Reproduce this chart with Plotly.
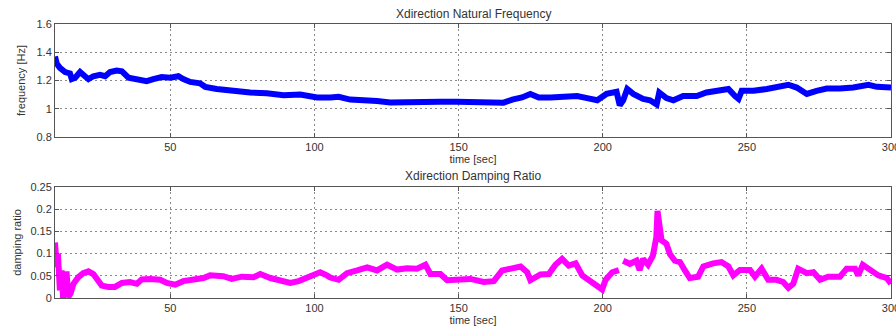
import plotly.graph_objects as go

# Natural frequency estimate (Hz) over time (s)
t_freq = [10, 10.6, 11.7, 13.5, 15.2, 15.8, 17, 18.7, 20.4, 21.6, 23.3, 25.6, 27.4, 29.1,
          31.4, 33.2, 35.5, 38.4, 41.8, 44.1, 47, 50, 52.8, 54.5, 56.9, 60.3, 62.1, 66.1,
          71.9, 77.7, 83.5, 89.3, 95.1, 100.9, 105.5, 108.4, 112.4, 117, 121.7, 126.3,
          132.1, 137.9, 143.7, 149.5, 155.2, 161, 165.6, 168.6, 172, 174.9, 177.8, 181.9,
          186.5, 191.1, 194.6, 198.1, 201.3, 204.8, 205.9, 207.1, 208.5, 210.6, 214, 216.4,
          218.7, 219.6, 222.1, 224.5, 227.9, 232.6, 236, 240.7, 243.6, 245.9, 247.1, 248.2,
          252.3, 256.9, 261.5, 264.4, 267.3, 270.8, 274.2, 277.7, 282.3, 286.9, 292.2,
          295.1, 300]
freq = [1.37, 1.32, 1.29, 1.26, 1.25, 1.21, 1.22, 1.26, 1.23, 1.21, 1.23, 1.24, 1.23, 1.26,
        1.27, 1.265, 1.22, 1.21, 1.195, 1.21, 1.225, 1.22, 1.23, 1.21, 1.19, 1.18, 1.155, 1.14,
        1.125, 1.115, 1.11, 1.095, 1.10, 1.08, 1.08, 1.085, 1.065, 1.065, 1.055, 1.045,
        1.05, 1.045, 1.05, 1.05, 1.05, 1.052, 1.043, 1.065, 1.08, 1.105, 1.08, 1.08,
        1.08, 1.09, 1.075, 1.06, 1.105, 1.12, 1.025, 1.06, 1.14, 1.105, 1.07, 1.06,
        1.03, 1.115, 1.075, 1.06, 1.09, 1.09, 1.115, 1.127, 1.14, 1.09, 1.07, 1.127,
        1.127, 1.14, 1.16, 1.17, 1.15, 1.105, 1.127, 1.143, 1.143, 1.15, 1.17,
        1.155, 1.15]

# Damping ratio estimate over time (s); None marks a gap in the estimate
t_damp = [10, 10.3, 10.6, 11, 11.3, 11.7, 12.3, 12.8, 13.5, 14, 14.6, 15.4, 16.4, 18.1,
          19.8, 21.6, 23.3, 24.5, 26.2, 28.5, 30.8, 33.2, 36, 38.4, 40.1, 43, 46.5, 48.8,
          51.7, 54.5, 58, 61.5, 63.8, 68.4, 71.3, 74.8, 78.9, 81.2, 84.7, 88.1, 91.6, 94.5,
          97.4, 99.7, 102, 104.3, 105.5, 108.4, 111.3, 114.8, 118.3, 121.7, 125.2, 128.7,
          132.1, 135.6, 138.5, 140.2, 143.7, 146, 149.5, 154.1, 158.7, 162.2, 165.1, 168.6,
          171.5, 173.8, 174.9, 178.4, 181.3, 183.6, 185.9, 188.2, 190.6, 192.9, 195.8,
          198.1, 199.8, 201, 203.3, 205.6, 206.3, 207.1, 209.4, 211.7, 212.8, 214, 215.7,
          217.4, 218.6, 219, 219.6, 220.4, 222.1, 223.3, 225, 226.8, 228.5, 230.2, 233.1,
          234.9, 238.3, 241.2, 243.6, 245.3, 247.6, 251.1, 252.8, 255.1, 257.4, 260.3,
          262.6, 264.4, 266.1, 267.8, 270.8, 273.1, 275.4, 278.2, 282.3, 284.6, 287.5,
          288.6, 290.2, 292.7, 295.6, 298.5, 300]
damp = [0.125, 0.085, 0.07, 0.1, 0.03, 0.017, 0.062, 0.0, 0.04, 0.06, 0.002, 0.01, 0.032, 0.047,
        0.056, 0.06, 0.054, 0.045, 0.028, 0.025, 0.025, 0.034, 0.036, 0.032, 0.042, 0.043, 0.041, 0.034,
        0.03, 0.038, 0.04, 0.045, 0.051, 0.049, 0.043, 0.048, 0.047, 0.054, 0.045, 0.038, 0.034, 0.038,
        0.045, 0.051, 0.058, 0.051, 0.046, 0.041, 0.056, 0.062, 0.069, 0.062, 0.075, 0.064,
        0.067, 0.066, 0.075, 0.054, 0.054, 0.04, 0.04, 0.043, 0.036, 0.038, 0.062, 0.068,
        0.071, 0.058, 0.04, 0.053, 0.054, 0.075, 0.088, 0.073, 0.078, 0.051, 0.038,
        0.025, 0.019, 0.041, 0.058, 0.063, None, 0.084, 0.077, 0.084, 0.063, 0.088, 0.075,
        0.095, 0.137, 0.196, 0.166, 0.13, 0.122, 0.099, 0.084, 0.081, 0.062, 0.045, 0.048,
        0.071, 0.078, 0.081, 0.071, 0.051, 0.063, 0.063, 0.048, 0.066, 0.041, 0.041,
        0.036, 0.023, 0.032, 0.066, 0.056, 0.058, 0.041, 0.048, 0.048, 0.066, 0.066,
        0.051, 0.075, 0.063, 0.051, 0.045, 0.032]

freq_ticks = [0.8, 1.0, 1.2, 1.4, 1.6]
freq_ticklabels = ["0.8", "1", "1.2", "1.4", "1.6"]
damp_ticks = [0, 0.05, 0.1, 0.15, 0.2, 0.25]
damp_ticklabels = ["0", "0.05", "0.1", "0.15", "0.2", "0.25"]
time_ticks = [50, 100, 150, 200, 250, 300]

FONT = "Liberation Sans"
TXT = "#333333"

fig = go.Figure()
fig.add_trace(go.Scatter(x=t_freq, y=freq, mode="lines", xaxis="x", yaxis="y",
                         line=dict(color="#0000ff", width=6), connectgaps=False))
fig.add_trace(go.Scatter(x=t_damp, y=damp, mode="lines", xaxis="x2", yaxis="y2",
                         line=dict(color="#ff00ff", width=6), connectgaps=False))

axis_common = dict(
    showline=True, linecolor="#555555", linewidth=1, mirror="ticks",
    ticks="inside", ticklen=4, tickcolor="#555555", automargin=False,
    showgrid=True, gridcolor="#8a8a8a", griddash="2px,3px", gridwidth=1,
    zeroline=False, tickfont=dict(family=FONT, size=11, color=TXT),
)

fig.update_layout(
    width=896, height=333,
    margin=dict(l=55, r=5, t=24, b=35),
    paper_bgcolor="white", plot_bgcolor="white",
    showlegend=False,
    font=dict(family=FONT, size=11, color=TXT),
    xaxis=dict(domain=[0, 1], anchor="y", range=[10, 300], tickvals=time_ticks,
               ticklabeloverflow="allow",
               title=dict(text="time [sec]", standoff=3, font=dict(size=11)), **axis_common),
    yaxis=dict(domain=[0.5876, 1], anchor="x", range=[0.8, 1.6], tickvals=freq_ticks,
               ticktext=freq_ticklabels,
               title=dict(text="frequency [Hz]", standoff=8, font=dict(size=11)), **axis_common),
    xaxis2=dict(domain=[0, 1], anchor="y2", range=[10, 300], tickvals=time_ticks,
                ticklabeloverflow="allow",
                title=dict(text="time [sec]", standoff=3, font=dict(size=11)), **axis_common),
    yaxis2=dict(domain=[0, 0.4051], anchor="x2", range=[0, 0.25], tickvals=damp_ticks,
                ticktext=damp_ticklabels,
                title=dict(text="damping ratio", standoff=6, font=dict(size=11)), **axis_common),
    annotations=[
        dict(text="Xdirection Natural Frequency", xref="paper", yref="paper",
             x=0.5, y=1.0, yshift=10, showarrow=False, yanchor="middle",
             font=dict(family=FONT, size=12, color=TXT)),
        dict(text="Xdirection Damping Ratio", xref="paper", yref="paper",
             x=0.5, y=0.4051, yshift=11, showarrow=False, yanchor="middle",
             font=dict(family=FONT, size=12, color=TXT)),
    ],
)

fig.write_html("out.html")
